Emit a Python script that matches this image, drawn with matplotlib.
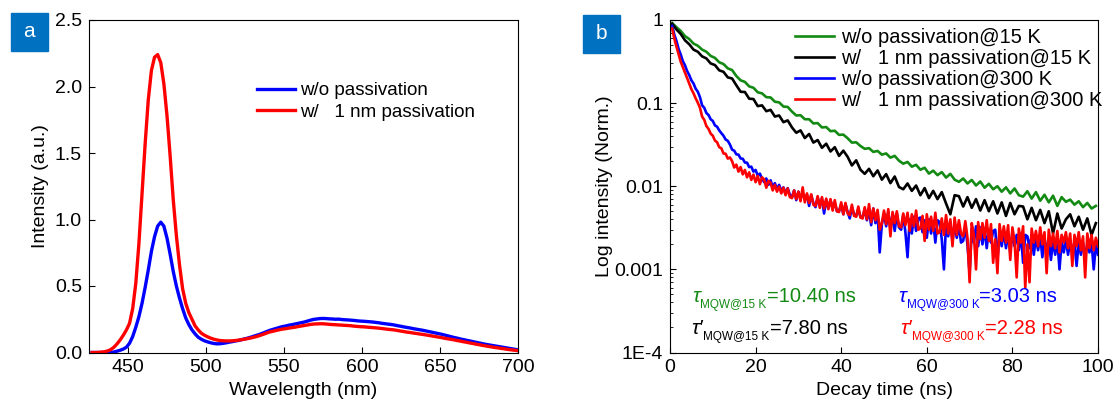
import numpy as np
import matplotlib
matplotlib.use('Agg')
import matplotlib.pyplot as plt
from matplotlib.ticker import FixedLocator, FixedFormatter, LogLocator, NullFormatter
from matplotlib.patches import Rectangle

plt.rcParams['font.family'] = ['Liberation Sans', 'DejaVu Sans']

# ---- panel a: PL spectra, 2 nm steps starting at 427 nm ----
WL_START = 427
WL_STEP = 2

pl_bare = [
    0, 0, 0, 0, 0, 0, 0,
    0.004, 0.01, 0.017, 0.026, 0.04, 0.07, 0.12, 0.19, 0.27, 0.37,
    0.49, 0.62, 0.76, 0.87, 0.95, 0.98, 0.95, 0.86, 0.74, 0.61,
    0.50, 0.41, 0.33, 0.26, 0.21, 0.17, 0.14, 0.115, 0.10, 0.088,
    0.080, 0.073, 0.068, 0.065, 0.066, 0.069, 0.073, 0.078, 0.082, 0.087,
    0.091, 0.097, 0.103, 0.109, 0.116, 0.124, 0.131, 0.139, 0.148, 0.158,
    0.167, 0.174, 0.181, 0.188, 0.195, 0.199, 0.205, 0.209, 0.214, 0.219,
    0.224, 0.229, 0.236, 0.243, 0.249, 0.252, 0.255, 0.256, 0.255, 0.253,
    0.252, 0.250, 0.251, 0.248, 0.246, 0.245, 0.243, 0.241, 0.238, 0.236,
    0.235, 0.233, 0.231, 0.229, 0.226, 0.223, 0.219, 0.216, 0.213, 0.210,
    0.206, 0.201, 0.197, 0.192, 0.188, 0.184, 0.179, 0.175, 0.171, 0.167,
    0.162, 0.157, 0.152, 0.147, 0.142, 0.137, 0.131, 0.125, 0.119, 0.113,
    0.108, 0.102, 0.097, 0.092, 0.087, 0.082, 0.077, 0.072, 0.067, 0.062,
    0.058, 0.054, 0.050, 0.046, 0.042, 0.038, 0.034, 0.030, 0.026, 0.022,
]
pl_pass = [
    0, 0, 0.001, 0.003, 0.006, 0.012, 0.022, 0.04, 0.065, 0.095,
    0.13, 0.17, 0.22, 0.33, 0.52, 0.82, 1.2, 1.57, 1.9, 2.12,
    2.22, 2.24, 2.18, 2.02, 1.78, 1.48, 1.15, 0.88, 0.66, 0.48,
    0.37, 0.30, 0.25, 0.20, 0.17, 0.145, 0.13, 0.118, 0.108, 0.10,
    0.094, 0.09, 0.088, 0.087,
    0.087, 0.088, 0.09, 0.093, 0.097, 0.101, 0.105, 0.11, 0.116, 0.122,
    0.13, 0.138, 0.147, 0.155, 0.16, 0.166, 0.171, 0.176, 0.179, 0.183,
    0.187, 0.19, 0.195, 0.199, 0.203, 0.207, 0.211, 0.214, 0.215, 0.216,
    0.216, 0.214, 0.212, 0.21, 0.209, 0.207, 0.206, 0.204, 0.203, 0.201,
    0.198, 0.196, 0.194, 0.193, 0.191, 0.189, 0.187, 0.185, 0.183, 0.18,
    0.177, 0.174, 0.172, 0.169, 0.165, 0.161, 0.157, 0.153, 0.15, 0.146,
    0.143, 0.139, 0.136, 0.132, 0.128, 0.124, 0.12, 0.116, 0.112, 0.107,
    0.103, 0.099, 0.095, 0.09, 0.086, 0.081, 0.077, 0.072, 0.068, 0.063,
    0.059, 0.054, 0.05, 0.046, 0.042, 0.038, 0.035, 0.031, 0.028, 0.024,
    0.021, 0.018, 0.015,
]
spectra_labels = ['w/o passivation', 'w/   1 nm passivation']

# ---- panel b: TRPL decays ----
# 15 K traces sampled every 1 ns from 0.5 ns, 300 K traces every 0.5 ns from 0.5 ns
T15_START, T15_STEP = 0.5, 1.0
T300_START, T300_STEP = 0.5, 0.5

decay_bare_15k = [
    0.92, 0.82, 0.74, 0.64, 0.59, 0.52, 0.49, 0.44, 0.415, 0.37,
    0.35, 0.31, 0.295, 0.262, 0.25, 0.212, 0.188, 0.18, 0.159, 0.153,
    0.135, 0.131, 0.118, 0.117, 0.104, 0.102, 0.091, 0.09, 0.079, 0.071,
    0.0715, 0.064, 0.064, 0.057, 0.0575, 0.051, 0.0515, 0.046, 0.0465, 0.0415,
    0.0418, 0.0378, 0.0335, 0.0338, 0.0305, 0.0282, 0.0287, 0.0259, 0.0266, 0.024,
    0.0248, 0.0221, 0.0232, 0.0203, 0.0187, 0.0196, 0.0172, 0.0181, 0.0158, 0.0167,
    0.0142, 0.0154, 0.0136, 0.0148, 0.0127, 0.0141, 0.012, 0.0113, 0.0124, 0.0108,
    0.0119, 0.0102, 0.0114, 0.0096, 0.0107, 0.0092, 0.01, 0.0086, 0.0097, 0.0082,
    0.0094, 0.0078, 0.0075, 0.0087, 0.0071, 0.0085, 0.0067, 0.0079, 0.0064, 0.0077,
    0.0058, 0.0074, 0.0065, 0.0069, 0.0060, 0.0066, 0.0056, 0.0063, 0.0054, 0.0058,
]
decay_pass_15k = [
    0.90, 0.77, 0.68, 0.57, 0.51, 0.44, 0.415, 0.365, 0.345, 0.30,
    0.287, 0.248, 0.238, 0.204, 0.198, 0.164, 0.137, 0.136, 0.113, 0.112,
    0.092, 0.094, 0.080, 0.083, 0.069, 0.071, 0.059, 0.062, 0.051, 0.044,
    0.047, 0.038, 0.0425, 0.0335, 0.036, 0.029, 0.0325, 0.0262, 0.0295, 0.0232,
    0.0268, 0.0226, 0.0178, 0.0205, 0.0158, 0.0141, 0.0162, 0.0132, 0.0155, 0.0120,
    0.0140, 0.0109, 0.0131, 0.0098, 0.0092, 0.0108, 0.0088, 0.0102, 0.0078, 0.0095,
    0.0072, 0.0088, 0.0070, 0.0085, 0.0062, 0.0046, 0.0078, 0.0076, 0.0057, 0.0074,
    0.0055, 0.0070, 0.0051, 0.0068, 0.0050, 0.0066, 0.0047, 0.0064, 0.0044, 0.0063,
    0.0046, 0.0058, 0.0057, 0.0040, 0.0055, 0.0039, 0.0052, 0.0036, 0.0050, 0.0027,
    0.0047, 0.0031, 0.0040, 0.0046, 0.0033, 0.0043, 0.0030, 0.0041, 0.0026, 0.0036,
]
decay_bare_300k = [
    0.85, 0.67, 0.56, 0.45, 0.385, 0.32, 0.285, 0.243, 0.217, 0.188,
    0.172, 0.149, 0.137, 0.118, 0.094, 0.088, 0.076, 0.072, 0.064, 0.061,
    0.054, 0.052, 0.047, 0.0435, 0.0405, 0.0365, 0.0352, 0.0318, 0.0276, 0.0268,
    0.0242, 0.0240, 0.0216, 0.0214, 0.0193, 0.0192, 0.0170, 0.0172, 0.0150, 0.0157,
    0.0134, 0.0142, 0.0124, 0.0112, 0.0124, 0.0104, 0.0118, 0.0098, 0.0109, 0.0092,
    0.0104, 0.0088, 0.0097, 0.0082, 0.0095, 0.0079, 0.0074, 0.0089, 0.0068, 0.0086,
    0.0071, 0.0083, 0.0069, 0.0079, 0.0058, 0.0078, 0.0063, 0.0056, 0.0073, 0.0059,
    0.0071, 0.0047, 0.0069, 0.0054, 0.0068, 0.0055, 0.0063, 0.0050, 0.0051, 0.0060,
    0.0046, 0.0061, 0.0049, 0.0041, 0.0056, 0.0046, 0.0044, 0.0053, 0.0043, 0.0042,
    0.0053, 0.0039, 0.0051, 0.0034, 0.0054, 0.0036, 0.0048, 0.0016, 0.0035, 0.0047,
    0.0033, 0.0049, 0.0031, 0.0046, 0.0029, 0.0047, 0.0032, 0.0030, 0.0045, 0.0028,
    0.0014, 0.0040, 0.0027, 0.0043, 0.0029, 0.0041, 0.0042, 0.0028, 0.0039, 0.0024,
    0.0040, 0.0027, 0.0038, 0.0021, 0.0039, 0.0037, 0.0023, 0.0010, 0.0036, 0.0025,
    0.0037, 0.0022, 0.0035, 0.0024, 0.0034, 0.0021, 0.0022, 0.0033, 0.0020, 0.0009,
    0.0031, 0.0021, 0.0033, 0.0019, 0.0032, 0.0020, 0.0031, 0.0018, 0.0030, 0.0021,
    0.0029, 0.0030, 0.0013, 0.0028, 0.0019, 0.0029, 0.0018, 0.0027, 0.0016, 0.0028,
    0.0019, 0.0026, 0.0017, 0.0027, 0.0012, 0.0026, 0.0025, 0.0018, 0.0026, 0.0015,
    0.0024, 0.0017, 0.0025, 0.0014, 0.0024, 0.0016, 0.0023, 0.0013, 0.0022, 0.0015,
    0.0023, 0.0010, 0.0021, 0.0016, 0.0023, 0.0015, 0.0022, 0.0016, 0.0021, 0.0011,
    0.0022, 0.0015, 0.0021, 0.0014, 0.0020, 0.0016, 0.0021, 0.0010, 0.0020, 0.0015,
]
decay_pass_300k = [
    0.79, 0.60, 0.48, 0.39, 0.315, 0.27, 0.232, 0.2, 0.172, 0.147,
    0.131, 0.114, 0.101, 0.088, 0.069, 0.063, 0.053, 0.049, 0.043, 0.0405,
    0.0355, 0.0338, 0.0295, 0.0286, 0.0248, 0.0246, 0.0215, 0.0222, 0.0201, 0.0168,
    0.0182, 0.0150, 0.0170, 0.0139, 0.0157, 0.0128, 0.0147, 0.0119, 0.0138, 0.0112,
    0.0133, 0.0106, 0.0128, 0.0121, 0.0096, 0.0116, 0.0110, 0.0089, 0.0104, 0.0086,
    0.0099, 0.0082, 0.0096, 0.0078, 0.0094, 0.0074, 0.0072, 0.0089, 0.0070, 0.0086,
    0.0066, 0.0097, 0.0064, 0.0082, 0.0063, 0.0080, 0.0060, 0.0058, 0.0076, 0.0055,
    0.0074, 0.0054, 0.0071, 0.0053, 0.0070, 0.0051, 0.0068, 0.0050, 0.0049, 0.0064,
    0.0046, 0.0063, 0.0047, 0.0045, 0.0060, 0.0044, 0.0043, 0.0057, 0.0042, 0.0041,
    0.0056, 0.0040, 0.0061, 0.0037, 0.0054, 0.0039, 0.0052, 0.0030, 0.0036, 0.0051,
    0.0035, 0.0053, 0.0025, 0.0049, 0.0036, 0.0050, 0.0033, 0.0032, 0.0047, 0.0034,
    0.0048, 0.0029, 0.0046, 0.0033, 0.0051, 0.0030, 0.0031, 0.0044, 0.0022, 0.0046,
    0.0030, 0.0043, 0.0029, 0.0048, 0.0027, 0.0028, 0.0041, 0.0026, 0.0045, 0.0027,
    0.0040, 0.0019, 0.0042, 0.0026, 0.0039, 0.0027, 0.0025, 0.0038, 0.0024, 0.0007,
    0.0036, 0.0026, 0.0010, 0.0037, 0.0023, 0.0036, 0.0024, 0.0039, 0.0022, 0.0035,
    0.0012, 0.0023, 0.0009, 0.0035, 0.0022, 0.0033, 0.0021, 0.0034, 0.0013, 0.0032,
    0.0022, 0.0008, 0.0031, 0.0021, 0.0033, 0.0006, 0.0020, 0.0007, 0.0031, 0.0021,
    0.0029, 0.0019, 0.0032, 0.0020, 0.0028, 0.0009, 0.0030, 0.0019, 0.0027, 0.0018,
    0.0029, 0.0016, 0.0026, 0.0021, 0.0028, 0.0018, 0.0027, 0.0011, 0.0026, 0.0019,
    0.0028, 0.0017, 0.0025, 0.0008, 0.0027, 0.0018, 0.0026, 0.0017, 0.0024, 0.0019,
]
decay_labels = ['w/o passivation@15 K', 'w/   1 nm passivation@15 K',
                'w/o passivation@300 K', 'w/   1 nm passivation@300 K']
decay_colors = ['#138a13', 'black', '#0000ff', '#ff0000']

# fitted lifetimes: (symbol, subscript, value)
lifetimes = [('\u03c4', 'MQW@15 K', '=10.40 ns'), ('\u03c4\u2032', 'MQW@15 K', '=7.80 ns'),
             ('\u03c4', 'MQW@300 K', '=3.03 ns'), ('\u03c4\u2032', 'MQW@300 K', '=2.28 ns')]

FS = 14
BOX_BLUE = '#0070c0'
W, H = 1117, 401


def style_axes(ax):
    ax.tick_params(direction='in', labelsize=FS, length=4, width=0.8,
                   top=False, right=False, pad=5)
    for s in ax.spines.values():
        s.set_linewidth(0.8)


def lifetime_label(ax, x, y, parts, color):
    sym, sub, val = parts
    t1 = ax.text(x, y, sym, transform=ax.transAxes, color=color, fontsize=15,
                 style='italic', ha='left', va='baseline')
    t2 = ax.annotate(sub, xy=(1, 0), xycoords=t1, xytext=(0.5, -3.5),
                     textcoords='offset points', color=color, fontsize=8.5,
                     ha='left', va='bottom')
    ax.annotate(val, xy=(1, 0), xycoords=(t2, t1), color=color, fontsize=14.5,
                ha='left', va='bottom')


def px_axes(left, right, top, bottom):
    return [left / W, 1 - bottom / H, (right - left) / W, (bottom - top) / H]


fig = plt.figure(figsize=(W / 100, H / 100), dpi=100)

# panel a
ax1 = fig.add_axes(px_axes(89, 518, 20, 352.5))
wl_bare = WL_START + WL_STEP * np.arange(len(pl_bare))
wl_pass = WL_START + WL_STEP * np.arange(len(pl_pass))
ax1.plot(wl_bare, pl_bare, color='#0000ff', lw=2.4, label=spectra_labels[0])
ax1.plot(wl_pass, pl_pass, color='#ff0000', lw=2.4, label=spectra_labels[1])
ax1.set_xlim(425, 700)
ax1.set_ylim(0, 2.5)
ax1.set_xticks([450, 500, 550, 600, 650, 700])
ax1.set_yticks([0, 0.5, 1.0, 1.5, 2.0, 2.5])
ax1.set_yticklabels(['0.0', '0.5', '1.0', '1.5', '2.0', '2.5'])
ax1.set_xlabel('Wavelength (nm)', fontsize=FS, labelpad=4)
ax1.set_ylabel('Intensity (a.u.)', fontsize=FS, labelpad=4)
style_axes(ax1)
ax1.legend(loc='upper left', bbox_to_anchor=(0.375, 0.835), frameon=False,
           fontsize=13.5, handlelength=2.0, handletextpad=0.3, labelspacing=0.22,
           borderaxespad=0)

# panel b
ax2 = fig.add_axes(px_axes(670, 1098, 20, 352.5))
series = [(decay_bare_15k, T15_START, T15_STEP), (decay_pass_15k, T15_START, T15_STEP),
          (decay_bare_300k, T300_START, T300_STEP), (decay_pass_300k, T300_START, T300_STEP)]
for (vals, t0, dt), lab, col in zip(series, decay_labels, decay_colors):
    t = t0 + dt * np.arange(len(vals))
    ax2.plot(t, vals, color=col, lw=1.9, label=lab)
ax2.set_yscale('log')
ax2.set_xlim(0, 100)
ax2.set_ylim(1e-4, 1)
ax2.set_xticks([0, 20, 40, 60, 80, 100])
ax2.yaxis.set_major_locator(FixedLocator([1e-4, 1e-3, 1e-2, 1e-1, 1]))
ax2.yaxis.set_major_formatter(FixedFormatter(['1E-4', '0.001', '0.01', '0.1', '1']))
ax2.yaxis.set_minor_locator(LogLocator(base=10, subs=np.arange(2, 10)))
ax2.yaxis.set_minor_formatter(NullFormatter())
ax2.tick_params(which='minor', direction='in', length=2.5, width=0.6, right=False)
ax2.set_xlabel('Decay time (ns)', fontsize=FS, labelpad=4)
ax2.set_ylabel('Log intensity (Norm.)', fontsize=FS, labelpad=1)
style_axes(ax2)
ax2.legend(loc='upper left', bbox_to_anchor=(0.274, 1.0), frameon=False,
           fontsize=14.5, handlelength=1.9, handletextpad=0.35, labelspacing=0.1,
           borderaxespad=0)

lt_pos = [(0.051, 0.151), (0.049, 0.056), (0.533, 0.151), (0.537, 0.056)]
for parts, (x, y), col in zip(lifetimes, lt_pos, decay_colors):
    lifetime_label(ax2, x, y, parts, col)

# panel tags
for letter, (x0, y0) in zip(['a', 'b'], [(10.5, 12.7), (582.6, 15)]):
    w, h = 37.7, 37.8
    fig.patches.append(Rectangle((x0 / W, 1 - (y0 + h) / H), w / W, h / H,
                                 transform=fig.transFigure, color=BOX_BLUE, zorder=5))
    fig.text((x0 + w / 2) / W, 1 - (y0 + h / 2) / H, letter, color='white',
             fontsize=15, ha='center', va='center', zorder=6)

fig.savefig('out.png', dpi=100)
